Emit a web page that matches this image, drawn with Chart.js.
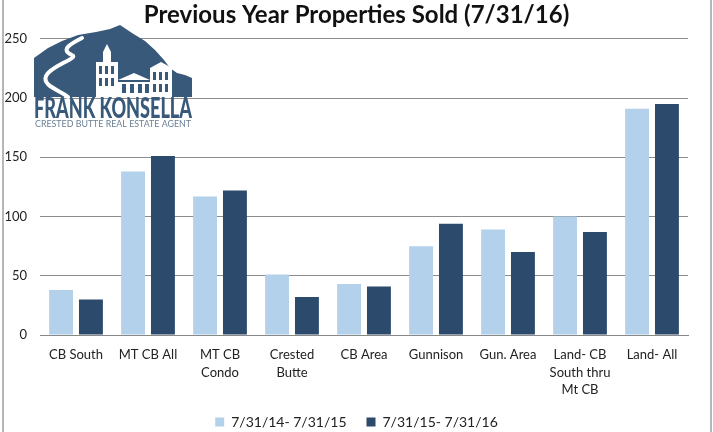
<!DOCTYPE html>
<html>
<head>
<meta charset="utf-8">
<script src="https://cdn.jsdelivr.net/npm/chart.js@4/dist/chart.umd.min.js"></script>
<style>
  html, body { margin: 0; padding: 0; background: #fff; }
  #wrap { width: 713px; height: 432px; position: relative; }
</style>
</head>
<body>
<div id="wrap"><canvas id="chart" width="713" height="432"></canvas></div>
<script>
// chart data
const categories = ['CB South', 'MT CB All', ['MT CB', 'Condo'], ['Crested', 'Butte'], 'CB Area',
    'Gunnison', 'Gun. Area', ['Land- CB', 'South thru', 'Mt CB'], 'Land- All'];
const seriesNames = ['7/31/14- 7/31/15', '7/31/15- 7/31/16'];
const soldPrevYear = [38, 138, 117, 51, 43, 75, 89, 100, 191];
const soldThisYear = [30, 151, 122, 32, 41, 94, 70, 87, 195];
const yTicks = [0, 50, 100, 150, 200, 250];

const LIGHT = '#b4d1eb';
const DARK = '#2c4b6c';
const LOGO = '#38597a';
const FONT = 'Lato, "Open Sans", sans-serif';

// side borders of the picture
const framePlugin = {
    id: 'frame',
    beforeDraw(chart) {
        const ctx = chart.ctx;
        ctx.save();
        ctx.strokeStyle = '#a0a0a0';
        ctx.lineWidth = 1.5;
        ctx.beginPath();
        ctx.moveTo(3, 0); ctx.lineTo(3, 432);
        ctx.moveTo(711, 0); ctx.lineTo(711, 432);
        ctx.stroke();
        ctx.restore();
    }
};

// Frank Konsella logo in the top left corner
const logoPlugin = {
    id: 'logo',
    afterDraw(chart) {
        const ctx = chart.ctx;
        ctx.save();
        // mountain
        ctx.fillStyle = LOGO;
        ctx.beginPath();
        const pts = [[34, 58], [48, 48], [62, 41], [78, 35], [96, 32], [110, 29], [120, 25], [132, 33],
            [145, 41], [155, 50], [164, 60], [170, 68], [177, 73], [185, 75], [192, 78], [192, 97], [34, 97]];
        ctx.moveTo(pts[0][0], pts[0][1]);
        pts.slice(1).forEach(p => ctx.lineTo(p[0], p[1]));
        ctx.closePath();
        ctx.fill();

        // winding road
        ctx.strokeStyle = '#fff';
        ctx.lineCap = 'round';
        ctx.lineWidth = 4;
        ctx.beginPath();
        ctx.moveTo(82, 38);
        ctx.bezierCurveTo(70, 44, 60, 50, 72, 55);
        ctx.bezierCurveTo(80, 58, 50, 66, 46, 76);
        ctx.bezierCurveTo(42, 86, 60, 90, 68, 97);
        ctx.stroke();

        // buildings
        ctx.fillStyle = '#fff';
        ctx.fillRect(96, 62, 22, 35);      // left building
        ctx.fillRect(103, 52, 8, 10);      // tower
        ctx.beginPath();
        ctx.moveTo(103, 52); ctx.lineTo(107, 44); ctx.lineTo(111, 52); ctx.fill();
        ctx.beginPath();                   // middle roof
        ctx.moveTo(118, 80); ctx.lineTo(134, 73); ctx.lineTo(150, 80); ctx.fill();
        ctx.fillRect(118, 80, 32, 17);
        ctx.fillRect(150, 68, 22, 29);     // right building
        ctx.beginPath();
        ctx.moveTo(150, 68); ctx.lineTo(161, 62); ctx.lineTo(172, 68); ctx.fill();

        ctx.fillStyle = LOGO;
        [[99, 66], [105, 66], [111, 66], [99, 78], [105, 78], [111, 78]].forEach(w => ctx.fillRect(w[0], w[1], 3, 8));
        [[153, 72], [159, 72], [165, 72], [153, 84], [159, 84], [165, 84]].forEach(w => ctx.fillRect(w[0], w[1], 3, 8));
        [[122, 84], [130, 84], [138, 84], [145, 84]].forEach(w => ctx.fillRect(w[0], w[1], 4, 9));
        ctx.fillRect(118, 80, 32, 2);

        // name, squeezed to logo width
        ctx.fillStyle = LOGO;
        ctx.textBaseline = 'alphabetic';
        ctx.font = '900 28px ' + FONT;
        let w = ctx.measureText('FRANK KONSELLA').width;
        ctx.save();
        ctx.translate(34, 118);
        ctx.scale(158 / w, 1);
        ctx.fillText('FRANK KONSELLA', 0, 0);
        ctx.restore();

        ctx.fillStyle = '#6a7f94';
        ctx.font = '9px ' + FONT;
        w = ctx.measureText('CRESTED BUTTE REAL ESTATE AGENT').width;
        ctx.save();
        ctx.translate(35, 127);
        ctx.scale(156 / w, 1);
        ctx.fillText('CRESTED BUTTE REAL ESTATE AGENT', 0, 0);
        ctx.restore();
        ctx.restore();
    }
};

new Chart(document.getElementById('chart'), {
    type: 'bar',
    data: {
        labels: categories,
        datasets: [
            { label: seriesNames[0], data: soldPrevYear, backgroundColor: LIGHT },
            { label: seriesNames[1], data: soldThisYear, backgroundColor: DARK }
        ]
    },
    options: {
        responsive: false,
        animation: false,
        devicePixelRatio: 1,
        categoryPercentage: 0.83,
        barPercentage: 0.8,
        layout: { padding: { left: 5, right: 5, top: 0, bottom: -7 } },
        plugins: {
            title: {
                display: true,
                text: 'Previous Year Properties Sold (7/31/16)',
                color: '#111',
                font: { family: FONT, size: 24, weight: 'bold' },
                padding: { top: 1, bottom: 9 }
            },
            legend: {
                position: 'bottom',
                labels: {
                    color: '#222',
                    boxWidth: 9,
                    boxHeight: 9,
                    padding: 20,
                    font: { family: FONT, size: 14 }
                }
            },
            tooltip: { enabled: false }
        },
        scales: {
            x: {
                grid: { display: false, drawTicks: false },
                border: { display: true, color: '#888', width: 1 },
                ticks: {
                    color: '#222',
                    maxRotation: 0,
                    autoSkip: false,
                    padding: 11,
                    font: { family: FONT, size: 13, lineHeight: 1.35 }
                },
                afterFit(axis) {
                    axis.height = 60;
                }
            },
            y: {
                min: 0,
                max: 250,
                afterBuildTicks(axis) {
                    axis.ticks = yTicks.map(v => ({ value: v }));
                },
                afterFit(axis) {
                    axis.width = 35;
                },
                grid: { color: '#8c8c8c', lineWidth: 1, drawTicks: false },
                border: { display: false },
                ticks: {
                    color: '#222',
                    padding: 13,
                    font: { family: FONT, size: 13 }
                }
            },
            // empty right margin so the plot ends where the reference does
            spacer: {
                position: 'right',
                grid: { display: false, drawTicks: false },
                border: { display: false },
                ticks: { display: false },
                afterFit(axis) {
                    axis.width = 20;
                }
            }
        }
    },
    plugins: [framePlugin, logoPlugin]
});
</script>
</body>
</html>
